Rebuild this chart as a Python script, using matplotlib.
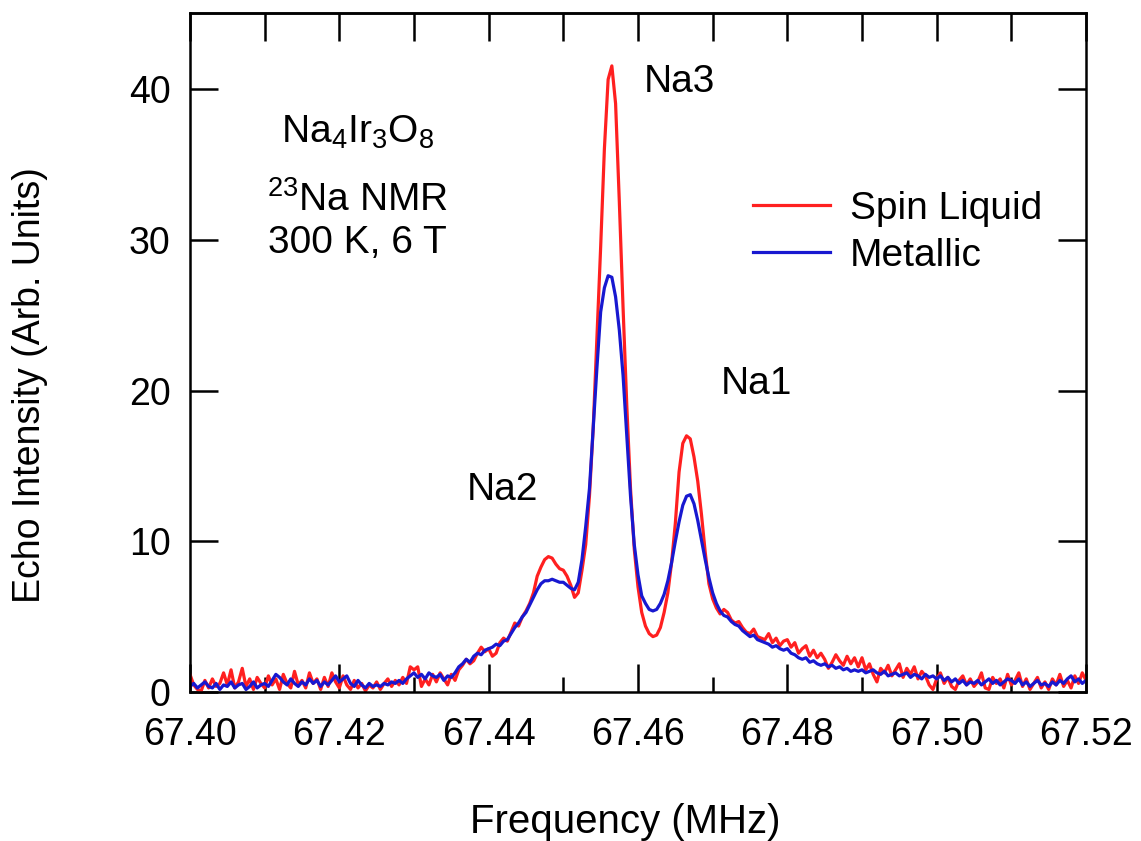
import numpy as np
import matplotlib
matplotlib.use("Agg")
import matplotlib.pyplot as plt

plt.rcParams['font.family'] = ['Liberation Sans', 'DejaVu Sans']
plt.rcParams['mathtext.fontset'] = 'custom'
plt.rcParams['mathtext.rm'] = 'Liberation Sans'
plt.rcParams['mathtext.it'] = 'Liberation Sans'

# frequency grid of the spectra (MHz), 0.0005 MHz step
freq = np.linspace(67.40, 67.52, 241)

# Spin liquid sample
spin_liquid = [
    1.2, 0.5, 0.2, 0.1, 0.8, 0.3, 0.9, 0.4, 0.6, 1.3,   # 67.400
    0.5, 1.5, 0.3, 0.7, 1.6, 0.4, 0.9, 0.2, 1.0, 0.6,   # 67.405
    0.3, 1.1, 0.5, 0.9, 0.2, 1.2, 0.6, 0.3, 1.4, 0.5,   # 67.410
    0.8, 0.3, 1.3, 0.6, 0.9, 0.2, 1.0, 0.4, 1.3, 0.7,   # 67.415
    0.3, 1.1, 0.5, 0.2, 0.8, 0.3, 0.6, 0.1, 0.5, 0.3,   # 67.420
    0.7, 0.2, 0.6, 0.9, 0.4, 0.8, 0.5, 1.0, 0.6, 1.7,   # 67.425
    1.5, 1.7, 0.4, 0.9, 0.5, 1.2, 0.7, 1.3, 0.9, 0.5,   # 67.430
    1.2, 0.8, 1.5, 1.8, 2.2, 1.9, 2.1, 2.6, 3.0, 2.7,   # 67.435
    2.9, 2.4, 2.6, 3.3, 3.6, 3.4, 4.0, 4.6, 4.4, 5.0,   # 67.440
    5.4, 5.9, 6.6, 7.7, 8.3, 8.8, 9.0, 8.9, 8.5, 8.2,   # 67.445
    8.1, 7.7, 7.1, 6.3, 6.6, 8.1, 9.8, 13.0, 17.5, 23.5,   # 67.450
    29.5, 36.0, 40.6, 41.5, 39.0, 32.5, 25.5, 19.0, 13.5, 9.5,   # 67.455
    7.0, 5.3, 4.4, 3.9, 3.7, 3.8, 4.3, 5.3, 6.6, 8.6,   # 67.460
    11.2, 14.6, 16.5, 17.0, 16.8, 15.6, 14.0, 11.8, 9.3, 7.2,   # 67.465
    6.2, 5.6, 5.2, 5.5, 5.3, 4.8, 4.6, 4.7, 4.3, 4.0,   # 67.470
    3.9, 4.2, 3.7, 3.6, 3.5, 3.9, 3.3, 3.6, 3.1, 3.4,   # 67.475
    3.5, 3.0, 3.3, 2.6, 2.9, 3.1, 2.4, 2.8, 2.3, 2.6,   # 67.480
    2.2, 1.6, 2.0, 2.5, 2.1, 1.8, 2.4, 1.9, 2.3, 1.7,   # 67.485
    2.3, 1.5, 1.9, 1.2, 0.7, 1.6, 1.3, 1.8, 1.1, 1.5,   # 67.490
    1.9, 1.0, 1.6, 1.2, 1.7, 0.9, 1.4, 1.1, 0.5, 0.2,   # 67.495
    0.9, 1.3, 0.6, 1.0, 0.4, 0.2, 0.8, 1.1, 0.5, 0.9,   # 67.500
    0.4, 0.7, 1.3, 0.3, 0.2, 1.0, 0.6, 0.9, 0.3, 1.2,   # 67.505
    0.5, 0.8, 1.3, 0.4, 0.9, 0.2, 0.6, 1.0, 0.3, 0.7,   # 67.510
    0.2, 0.9, 0.5, 1.2, 0.4, 0.8, 0.3, 1.1, 0.6, 1.3,   # 67.515
    0.8,
]

# Metallic sample
metallic = [
    0.4, 0.6, 0.3, 0.5, 0.7, 0.4, 0.3, 0.6, 0.2, 0.5,   # 67.400
    0.4, 0.7, 0.3, 0.5, 0.6, 0.2, 0.4, 0.7, 0.3, 0.5,   # 67.405
    0.6, 0.4, 0.8, 1.2, 1.0, 0.7, 0.5, 0.9, 0.6, 0.4,   # 67.410
    0.7, 0.5, 0.9, 0.6, 0.8, 0.4, 0.7, 0.5, 0.8, 1.1,   # 67.415
    0.7, 0.9, 1.1, 0.6, 0.4, 0.8, 0.5, 0.3, 0.6, 0.4,   # 67.420
    0.5, 0.4, 0.6, 0.5, 0.7, 0.6, 0.8, 0.6, 0.9, 1.1,   # 67.425
    1.3, 1.0, 1.2, 0.9, 1.3, 1.1, 1.0, 1.2, 0.8, 1.1,   # 67.430
    1.0, 1.3, 1.7, 1.9, 2.2, 2.0, 2.4, 2.6, 2.5, 2.8,   # 67.435
    2.9, 3.0, 3.2, 3.1, 3.4, 3.5, 3.9, 4.3, 4.6, 5.0,   # 67.440
    5.3, 5.8, 6.3, 6.8, 7.2, 7.4, 7.4, 7.5, 7.4, 7.3,   # 67.445
    7.3, 7.1, 6.9, 6.8, 7.3, 8.8, 11.0, 13.5, 17.5, 21.5,   # 67.450
    25.2, 26.8, 27.6, 27.5, 26.2, 24.0, 21.0, 17.0, 13.0, 9.8,   # 67.455
    7.8, 6.4, 5.9, 5.5, 5.4, 5.5, 5.9, 6.5, 7.4, 8.6,   # 67.460
    10.0, 11.3, 12.4, 13.0, 13.1, 12.5, 11.4, 10.1, 8.8, 7.6,   # 67.465
    6.6, 5.9, 5.4, 5.1, 5.0, 4.7, 4.5, 4.4, 4.1, 3.9,   # 67.470
    3.7, 3.8, 3.5, 3.4, 3.3, 3.2, 3.0, 3.1, 2.9, 2.8,   # 67.475
    2.9, 2.6, 2.5, 2.3, 2.2, 2.3, 2.0, 2.1, 1.9, 1.8,   # 67.480
    1.9, 1.7, 1.8, 1.6, 1.7, 1.5, 1.6, 1.4, 1.5, 1.4,   # 67.485
    1.5, 1.3, 1.4, 1.5, 1.3, 1.2, 1.4, 1.1, 1.2, 1.3,   # 67.490
    1.1, 1.2, 1.3, 1.0, 1.2, 1.1, 0.9, 1.2, 1.0, 1.1,   # 67.495
    0.9, 1.1, 0.8, 1.0, 0.7, 0.9, 0.6, 0.8, 0.5, 0.7,   # 67.500
    0.6, 0.8, 0.5, 0.7, 0.9, 0.6, 0.8, 0.5, 0.7, 0.9,   # 67.505
    0.8, 0.6, 0.9, 0.5, 0.7, 0.4, 0.6, 0.8, 0.5, 0.6,   # 67.510
    0.4, 0.7, 0.5, 0.8, 0.6, 0.9, 1.1, 0.7, 0.9, 0.6,   # 67.515
    0.8,
]

x_ticks = [67.40, 67.42, 67.44, 67.46, 67.48, 67.50, 67.52]
y_ticks = [0, 10, 20, 30, 40]

fig = plt.figure(figsize=(11.41, 8.41), dpi=100)
ax = fig.add_axes([0.1665, 0.1766, 0.7853, 0.8079])

ax.plot(freq, spin_liquid, color='#ff2020', lw=2.3, label='Spin Liquid')
ax.plot(freq, metallic, color='#1818d0', lw=2.3, label='Metallic')

ax.set_xlim(67.40, 67.52)
ax.set_ylim(0, 45)
ax.set_xticks(x_ticks)
ax.set_xticklabels(['%.2f' % t for t in x_ticks])
ax.set_xticks(np.arange(67.41, 67.52, 0.02), minor=True)
ax.set_yticks(y_ticks)

ax.tick_params(axis='both', which='major', direction='in', length=20, width=1.8,
               labelsize=27, right=True)
ax.tick_params(axis='x', which='major', pad=18)
ax.tick_params(axis='y', which='major', pad=14)
ax.tick_params(axis='x', which='minor', direction='in', length=11, width=1.8)
for s in ax.spines.values():
    s.set_linewidth(1.8)

# top axis: every 0.01 MHz, all long
top = ax.secondary_xaxis('top')
top.set_xticks(np.arange(67.40, 67.5201, 0.01))
top.tick_params(direction='in', length=20, width=1.8, labeltop=False)
top.spines['top'].set_linewidth(1.8)

ax.set_xlabel('Frequency (MHz)', fontsize=29)
ax.xaxis.set_label_coords(0.4855, -0.162)
ax.set_ylabel('Echo Intensity (Arb. Units)', fontsize=27)
ax.yaxis.set_label_coords(-0.158, 0.4525)

ax.text(67.4224, 37.1, r'Na$_4$Ir$_3$O$_8$', fontsize=28, ha='center', va='center')
ax.text(67.4224, 32.6, r'$^{23}$Na NMR', fontsize=28, ha='center', va='center')
ax.text(67.4224, 29.8, '300 K, 6 T', fontsize=28, ha='center', va='center')

ax.text(67.4656, 40.4, 'Na3', fontsize=28, ha='center', va='center')
ax.text(67.4758, 20.4, 'Na1', fontsize=28, ha='center', va='center')
ax.text(67.4419, 13.4, 'Na2', fontsize=28, ha='center', va='center')

ax.legend(loc='upper left', bbox_to_anchor=(0.628, 0.738), frameon=False,
          fontsize=28, handlelength=2.0, handletextpad=0.5, labelspacing=0.28,
          borderpad=0, borderaxespad=0)

fig.savefig('out.png', dpi=100)
